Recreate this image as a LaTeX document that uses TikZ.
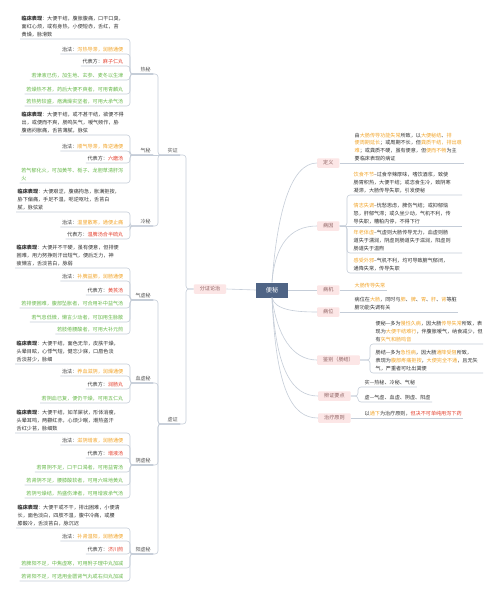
\documentclass[tikz,border=0pt]{standalone}
\usepackage{fontspec}
\setmainfont{Noto Sans CJK SC}
\definecolor{txt}{HTML}{333333}
\definecolor{labc}{HTML}{555555}
\definecolor{org}{HTML}{F2A52B}
\definecolor{redc}{HTML}{E4402E}
\definecolor{grn}{HTML}{69B94C}
\definecolor{lineclr}{HTML}{C5CDD8}
\definecolor{pinkf}{HTML}{FCE6E6}
\definecolor{pinkt}{HTML}{8E6262}
\definecolor{rootc}{HTML}{4F6485}
\newcommand\fs{\fontsize{5.1}{7.7}\selectfont}
\newcommand\og[1]{\textcolor{org}{#1}}
\newcommand\rd[1]{\textcolor{redc}{#1}}
\newcommand\gn[1]{\textcolor{grn}{#1}}
\newcommand\lcbx{\textbf{临床表现}：}
\begin{document}
\begin{tikzpicture}[x=1pt,y=-1pt,
 conn/.style={draw=lineclr, line width=0.6pt, rounded corners=3pt},
 leaf/.style={font=\fs, text=txt, align=left, inner xsep=1.5pt, inner ysep=2pt, anchor=south east},
 cblock/.style={font=\fs, text=txt, align=left, inner xsep=1.5pt, inner ysep=2pt, anchor=south west},
 rleaf/.style={font=\fs, text=txt, align=left, inner xsep=1.5pt, inner ysep=2pt, anchor=south west},
 lab/.style={font=\fs, text=labc, inner xsep=2pt, inner ysep=2pt, anchor=south east},
 pinkbox/.style={fill=pinkf, text=pinkt, font=\fs, rounded corners=1pt, inner xsep=6pt, inner ysep=0pt, minimum height=9.5pt, anchor=west},
 rootbox/.style={fill=rootc, text=white, font=\fontsize{6.2}{7}\selectfont, minimum width=32pt, minimum height=15pt, inner sep=0pt}]
\fill[white] (0,0) rectangle (500,597);
\path[use as bounding box] (0,0) rectangle (500,597);

\coordinate (B1) at (130,0);
\coordinate (B2) at (158,0);
\coordinate (B3) at (186,0);

% ---------- root and first level ----------
\node[rootbox] (R) at (272,290) {便秘};
\node[pinkbox, anchor=center] (fz) at (210,289) {分证论治};
\node[pinkbox] (dy) at (317,163) {定义};
\node[pinkbox] (by) at (317,226) {病因};
\node[pinkbox] (bj) at (317,290) {病机};
\node[pinkbox] (bw) at (317,312) {病位};
\node[pinkbox] (jb) at (317,360) {鉴别（肠结）};
\node[pinkbox] (bz) at (318,396) {辨证要点};
\node[pinkbox] (zl) at (318,418) {治疗原则};

\draw[conn] (fz.east) -- (R.west);
\draw[conn] (R.north) .. controls (277,215) and (290,163) .. (dy.west);
\draw[conn] (R.north) .. controls (275,245) and (290,226) .. (by.west);
\draw[conn] (R.east) -- (bj.west);
\draw[conn] (R.south) .. controls (275,310) and (295,312) .. (bw.west);
\draw[conn] (R.south) .. controls (277,335) and (292,360) .. (jb.west);
\draw[conn] (R.south) .. controls (276,370) and (292,396) .. (bz.west);
\draw[conn] (R.south) .. controls (276,390) and (292,418) .. (zl.west);

% ---------- right side ----------
\node[rleaf] (dy1) at (353,163) {由\og{大肠传导功能失常}所致，以\og{大便秘结}、\og{排}\\\og{便周期延长}；或周期不长，但\og{粪质干结，排出艰}\\\og{难}；或粪质不硬，虽有便意，但\og{便而不畅}为主\\要临床表现的病证};
\draw[conn] (dy.east) -- (dy1.south east);

\coordinate (BY) at (347,0);
\coordinate (BYE) at (462,0);
\node[rleaf] (by1) at (352,195) {\og{饮食不节}–过食辛辣厚味，嗜饮酒浆，致使\\肠胃积热，大便干结；或恣食生冷，致阴寒\\凝滞，大肠传导失职，引发便秘};
\node[rleaf] (by2) at (352,226) {\og{情志失调}–忧愁思虑，脾伤气结；或抑郁恼\\怒，肝郁气滞；或久坐少动，气机不利，传\\导失职，糟粕内停，不得下行};
\node[rleaf] (by3) at (352,253) {\og{年老体虚}–气虚则大肠传导无力，血虚则肠\\道失于濡润，阴虚则肠道失于滋润，阳虚则\\肠道失于温煦};
\node[rleaf] (by4) at (352,273) {\og{感受外邪}–气机不利，均可导致腑气郁闭，\\通降失常，传导失职};
\draw[conn] (by1.south -| BYE) -- (by1.south -| BY) -- (BY |- by.east) -- (by.east);
\draw[conn] (by2.south -| BYE) -- (by.east);
\draw[conn] (by3.south -| BYE) -- (by3.south -| BY) -- (BY |- by.east) -- (by.east);
\draw[conn] (by4.south -| BYE) -- (by4.south -| BY) -- (BY |- by.east) -- (by.east);

\node[rleaf] (bj1) at (353,290) {\og{大肠传导失常}};
\draw[conn] (bj.east) -- (bj1.south east);

\node[rleaf] (bw1) at (353,312) {病位在\og{大肠}，同时与\og{肺}、\og{脾}、\og{胃}、\og{肝}、\og{肾}等脏\\腑功能失调有关};
\draw[conn] (bw.east) -- (bw1.south east);

\coordinate (BJ) at (370,0);
\coordinate (BJE) at (483,0);
\node[rleaf] (jb1) at (374,344) {便秘—多为\og{慢性久病}，因大肠\og{传导失常}所致，表\\现为\og{大便干结难行}，伴腹胀嗳气，纳食减少，但\\有\og{矢气和肠鸣音}};
\node[rleaf] (jb2) at (374,373) {肠结—多为\og{急性病}，因大肠\og{通降受阻}所致，\\表现为\og{腹部疼痛拒按}，\og{大便完全不通}，且无矢\\气，严重者可吐出粪便};
\draw[conn] (jb1.south -| BJE) -- (jb1.south -| BJ) -- (BJ |- jb.east) -- (jb.east);
\draw[conn] (jb2.south -| BJE) -- (jb2.south -| BJ) -- (BJ |- jb.east) -- (jb.east);

\coordinate (BZ) at (358,0);
\node[rleaf] (bz1) at (363,387) {实—热秘、冷秘、气秘};
\node[rleaf] (bz2) at (363,402) {虚—气虚、血虚、阴虚、阳虚};
\draw[conn] (bz1.south east) -- (bz1.south -| BZ) -- (BZ |- bz.east) -- (bz.east);
\draw[conn] (bz2.south east) -- (bz2.south -| BZ) -- (BZ |- bz.east) -- (bz.east);

\node[rleaf] (zl1) at (363,418) {以\og{通下}为治疗原则，\rd{但决不可单纯用泻下药}};
\draw[conn] (zl.east) -- (zl1.south east);

% ---------- left side: labels ----------
\node[lab] (sz) at (180,155) {实证};
\node[lab] (xz) at (180,424) {虚证};
\node[lab] (rm) at (153,74) {热秘};
\node[lab] (qm) at (153,155) {气秘};
\node[lab] (lm) at (153,226) {冷秘};
\node[lab] (xqm) at (153,300) {气虚秘};
\node[lab] (xxm) at (153,383) {血虚秘};
\node[lab] (xym) at (153,465) {阴虚秘};
\node[lab] (xam) at (153,554) {阳虚秘};

\draw[conn] (B2 |- sz.south) -- (sz.south -| B3) -- (B3 |- fz.west) -- (fz.west);
\draw[conn] (B2 |- xz.south) -- (xz.south -| B3) -- (B3 |- fz.west) -- (fz.west);
\draw[conn] (B1 |- rm.south) -- (rm.south -| B2) -- (B2 |- sz.south) -- (sz.south east);
\draw[conn] (B1 |- qm.south) -- (sz.south east);
\draw[conn] (B1 |- lm.south) -- (lm.south -| B2) -- (B2 |- sz.south) -- (sz.south east);
\foreach \n in {xqm,xxm,xym,xam}
  \draw[conn] (B1 |- \n.south) -- (\n.south -| B2) -- (B2 |- xz.south) -- (xz.south east);

% ---------- 热秘 ----------
\node[cblock] (r1) at (20,39) {\lcbx 大便干结，腹胀腹痛，口干口臭，\\面红心烦，或有身热，小便短赤，舌红，苔\\黄燥，脉滑数};
\node[leaf] (r2) at (125,54) {治法：\og{泻热导滞，润肠通便}};
\node[leaf] (r3) at (125,66) {代表方：\rd{麻子仁丸}};
\node[leaf] (r4) at (125,80) {\gn{若津液已伤，加生地、玄参、麦冬以生津}};
\node[leaf] (r5) at (125,94) {\gn{若燥热不甚，药后大便不爽者，可用青麟丸}};
\node[leaf] (r6) at (125,106) {\gn{若热势较盛，痞满燥实坚者，可用大承气汤}};
\foreach \n in {r1,r2,r3,r4,r5,r6}
  \draw[conn] (\n.south west) -- (\n.south -| B1) -- (B1 |- rm.south) -- (rm.south east);

% ---------- 气秘 ----------
\node[cblock] (q1) at (20,135) {\lcbx 大便干结，或不甚干结，欲便不得\\出，或便而不爽，肠鸣矢气，嗳气频作，胁\\腹痞闷胀痛，舌苔薄腻，脉弦};
\node[leaf] (q2) at (125,151) {治法：\og{顺气导滞，降逆通便}};
\node[leaf] (q3) at (125,163) {代表方：\rd{六磨汤}};
\node[leaf] (q4) at (125,183) {\gn{若气郁化火，可加黄芩、栀子、龙胆草清肝泻}\\\gn{火}};
\foreach \n in {q1,q2,q3,q4}
  \draw[conn] (\n.south west) -- (\n.south -| B1) -- (B1 |- qm.south) -- (qm.south east);

% ---------- 冷秘 ----------
\node[cblock] (l1) at (16,212) {\lcbx 大便艰涩，腹痛拘急，胀满拒按，\\胁下偏痛，手足不温，呃逆呕吐，舌苔白\\腻，脉弦紧};
\node[leaf] (l2) at (125,227) {治法：\og{温里散寒，通便止痛}};
\node[leaf] (l3) at (125,239) {代表方：\rd{温脾汤合半硫丸}};
\foreach \n in {l1,l2,l3}
  \draw[conn] (\n.south west) -- (\n.south -| B1) -- (B1 |- lm.south) -- (lm.south east);

% ---------- 气虚秘 ----------
\node[cblock] (a1) at (15,268) {\lcbx 大便并不干硬，虽有便意，但排便\\困难，用力努挣则汗出短气，便后乏力，神\\疲懒言，舌淡苔白，脉弱};
\node[leaf] (a2) at (125,281) {治法：\og{补脾益肺，润肠通便}};
\node[leaf] (a3) at (125,295) {代表方：\rd{黄芪汤}};
\node[leaf] (a4) at (125,308) {\gn{若排便困难，腹部坠胀者，可合用补中益气汤}};
\node[leaf] (a5) at (125,322) {\gn{若气息低微，懒言少动者，可加用生脉散}};
\node[leaf] (a6) at (125,334) {\gn{若肢倦腰酸者，可用大补元煎}};
\foreach \n in {a1,a2,a3,a4,a5,a6}
  \draw[conn] (\n.south west) -- (\n.south -| B1) -- (B1 |- xqm.south) -- (xqm.south east);

% ---------- 血虚秘 ----------
\node[cblock] (b1) at (15,364) {\lcbx 大便干结，面色无华，皮肤干燥，\\头晕目眩，心悸气短，健忘少寐，口唇色淡\\舌淡苔少，脉细};
\node[leaf] (b2) at (125,376) {治法：\og{养血滋阴，润燥通便}};
\node[leaf] (b3) at (125,389) {代表方：\rd{润肠丸}};
\node[leaf] (b4) at (125,403) {\gn{若阴血已复，便仍干燥，可用五仁丸}};
\foreach \n in {b1,b2,b3,b4}
  \draw[conn] (\n.south west) -- (\n.south -| B1) -- (B1 |- xxm.south) -- (xxm.south east);

% ---------- 阴虚秘 ----------
\node[cblock] (c1) at (15,433) {\lcbx 大便干结，如羊屎状，形体消瘦，\\头晕耳鸣，两颧红赤，心烦少眠，潮热盗汗\\舌红少苔，脉细数};
\node[leaf] (c2) at (125,445) {治法：\og{滋阴增液，润肠通便}};
\node[leaf] (c3) at (125,458) {代表方：\rd{增液汤}};
\node[leaf] (c4) at (125,472) {\gn{若胃阴不足，口干口渴者，可用益胃汤}};
\node[leaf] (c5) at (125,485) {\gn{若肾阴不足，腰膝酸软者，可用六味地黄丸}};
\node[leaf] (c6) at (125,498) {\gn{若阴亏燥结，热盛伤津者，可用增液承气汤}};
\foreach \n in {c1,c2,c3,c4,c5,c6}
  \draw[conn] (\n.south west) -- (\n.south -| B1) -- (B1 |- xym.south) -- (xym.south east);

% ---------- 阳虚秘 ----------
\node[cblock] (d1) at (16,528) {\lcbx 大便干或不干，排出困难，小便清\\长，面色淡白，四肢不温，腹中冷痛，或腰\\膝酸冷，舌淡苔白，脉沉迟};
\node[leaf] (d2) at (125,541) {治法：\og{补肾温阳，润肠通便}};
\node[leaf] (d3) at (125,554) {代表方：\rd{济川煎}};
\node[leaf] (d4) at (125,568) {\gn{若脾阳不足，中焦虚寒，可用附子理中丸加减}};
\node[leaf] (d5) at (125,581) {\gn{若肾阳不足，可选用金匮肾气丸或右归丸加减}};
\foreach \n in {d1,d2,d3,d4,d5}
  \draw[conn] (\n.south west) -- (\n.south -| B1) -- (B1 |- xam.south) -- (xam.south east);
\end{tikzpicture}
\end{document}
